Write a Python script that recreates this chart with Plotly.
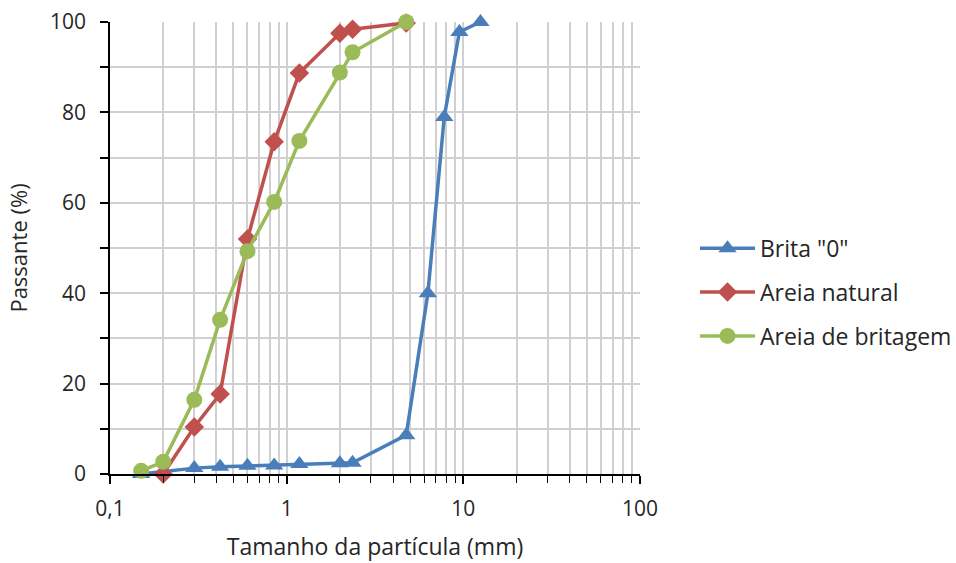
import plotly.graph_objects as go

# Particle size distribution (sieve opening in mm vs. percent passing)
brita_mm = [0.15, 0.3, 0.42, 0.6, 0.85, 1.18, 2.0, 2.36, 4.75, 6.3, 7.8, 9.5, 12.5]
brita_pass = [0.0, 1.3, 1.6, 1.8, 1.9, 2.2, 2.4, 2.5, 8.6, 40.0, 79.0, 97.8, 100.0]

natural_mm = [0.2, 0.3, 0.42, 0.6, 0.85, 1.18, 2.0, 2.36, 4.75]
natural_pass = [0.0, 10.4, 17.7, 52.0, 73.5, 88.7, 97.5, 98.4, 99.8]

britagem_mm = [0.15, 0.2, 0.3, 0.42, 0.6, 0.85, 1.18, 2.0, 2.36, 4.75]
britagem_pass = [0.7, 2.7, 16.4, 34.1, 49.3, 60.2, 73.7, 88.8, 93.3, 100.0]

x_tickvals = [0.1, 1, 10, 100]
x_ticktext = ["0,1", "1", "10", "100"]
y_tickvals = [0, 10, 20, 30, 40, 50, 60, 70, 80, 90, 100]
y_ticktext = ["0", "", "20", "", "40", "", "60", "", "80", "", "100"]

FONT = "Open Sans"
TEXT = "#262626"
GRID = "#d0d0d0"

fig = go.Figure()
fig.add_trace(go.Scatter(
    x=brita_mm, y=brita_pass, mode="lines+markers", name='Brita "0"',
    legendgroup="a", cliponaxis=False,
    line=dict(color="#4a7ebb", width=3.5),
    marker=dict(symbol="triangle-up", size=16, color="#4a7ebb"),
))
fig.add_trace(go.Scatter(
    x=natural_mm, y=natural_pass, mode="lines+markers", name="Areia natural",
    legendgroup="b", cliponaxis=False,
    line=dict(color="#c0504d", width=3.5),
    marker=dict(symbol="diamond", size=15, color="#c0504d"),
))
fig.add_trace(go.Scatter(
    x=britagem_mm, y=britagem_pass, mode="lines+markers", name="Areia de britagem",
    legendgroup="c", cliponaxis=False,
    line=dict(color="#9bbb59", width=3.5),
    marker=dict(symbol="circle", size=16, color="#9bbb59"),
))

fig.update_layout(
    width=956, height=563,
    margin=dict(l=110, r=316, t=22, b=89),
    paper_bgcolor="white", plot_bgcolor="white",
    font=dict(family=FONT, size=21, color=TEXT),
    legend=dict(
        xref="container", yref="container",
        x=0.727, y=0.481, xanchor="left", yanchor="middle",
        font=dict(family=FONT, size=23, color=TEXT),
        traceorder="grouped", tracegroupgap=11, itemwidth=55,
    ),
)
fig.update_xaxes(
    type="log", range=[-1, 2], automargin=False,
    tickvals=x_tickvals, ticktext=x_ticktext,
    showline=True, linecolor="black", linewidth=1.5,
    ticks="outside", ticklen=8, tickcolor="black", tickwidth=1.5,
    showgrid=True, gridcolor=GRID, gridwidth=1.5,
    minor=dict(dtick="D1", ticks="outside", ticklen=7, tickcolor="black",
               tickwidth=1.2, showgrid=True, gridcolor=GRID, gridwidth=1.5),
    zeroline=False, ticklabelstandoff=7,
    title=dict(text="Tamanho da partícula (mm)", font=dict(size=23), standoff=18),
    tickfont=dict(size=21),
)
fig.update_yaxes(
    range=[0, 100], tickvals=y_tickvals, ticktext=y_ticktext, automargin=False,
    showline=True, linecolor="black", linewidth=1.5,
    ticks="outside", ticklen=8, tickcolor="black", tickwidth=1.5,
    showgrid=True, gridcolor=GRID, gridwidth=1.5,
    zeroline=False, ticklabelstandoff=10,
    title=dict(text="Passante (%)", font=dict(size=22), standoff=16),
    tickfont=dict(size=21),
)

fig.write_html("out.html")
